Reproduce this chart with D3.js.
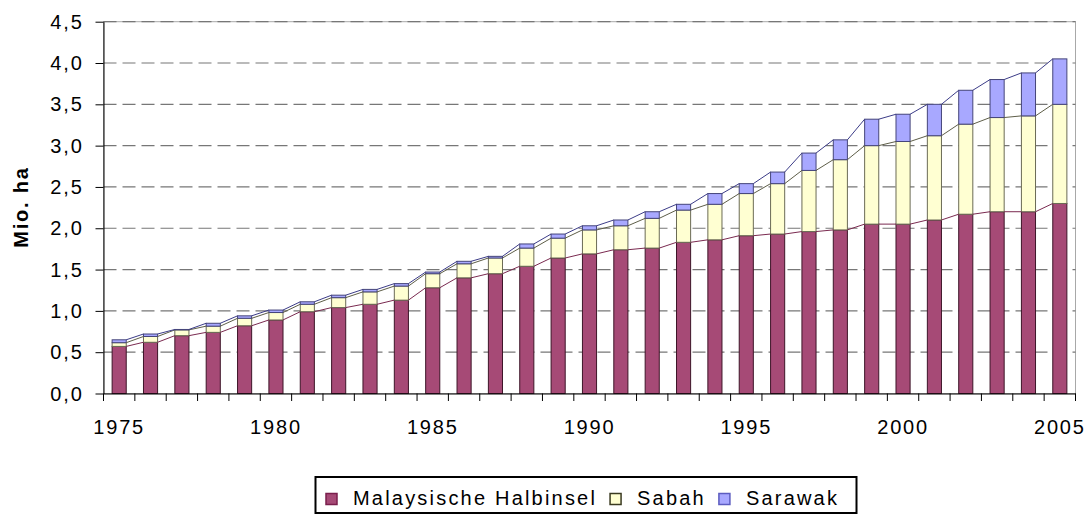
<!DOCTYPE html>
<html>
<head>
<meta charset="utf-8">
<script src="https://cdn.jsdelivr.net/npm/d3@7"></script>
<style>
  body { margin: 0; background: #fff; }
  svg { display: block; }
  text { font-family: "Liberation Sans", Arial, sans-serif; fill: #000; }
</style>
</head>
<body>
<svg id="chart" width="1091" height="515"></svg>
<script>
// Plantation area by region, million hectares
const years = [1975, 1976, 1977, 1978, 1979, 1980, 1981, 1982, 1983, 1984,
               1985, 1986, 1987, 1988, 1989, 1990, 1991, 1992, 1993, 1994,
               1995, 1996, 1997, 1998, 1999, 2000, 2001, 2002, 2003, 2004, 2005];
const halbinsel = [0.57, 0.62, 0.70, 0.74, 0.82, 0.89, 0.99, 1.04, 1.08, 1.13,
                   1.28, 1.40, 1.45, 1.54, 1.64, 1.69, 1.74, 1.76, 1.83, 1.86,
                   1.91, 1.93, 1.96, 1.98, 2.05, 2.05, 2.10, 2.17, 2.20, 2.20, 2.30];
const sabah = [0.045, 0.07, 0.07, 0.075, 0.09, 0.09, 0.09, 0.12, 0.15, 0.17,
               0.17, 0.17, 0.19, 0.22, 0.24, 0.29, 0.29, 0.36, 0.39, 0.43,
               0.51, 0.61, 0.74, 0.85, 0.95, 1.00, 1.02, 1.09, 1.14, 1.16, 1.20];
const sarawak = [0.035, 0.03, 0.005, 0.035, 0.03, 0.03, 0.03, 0.03, 0.03, 0.03,
                 0.02, 0.03, 0.02, 0.05, 0.05, 0.05, 0.07, 0.08, 0.07, 0.13,
                 0.12, 0.14, 0.21, 0.24, 0.32, 0.33, 0.38, 0.41, 0.46, 0.52, 0.55];
const seriesNames = ["Malaysische Halbinsel", "Sabah", "Sarawak"];
const yTicks = [0, 0.5, 1, 1.5, 2, 2.5, 3, 3.5, 4, 4.5];
const xLabelYears = [1975, 1980, 1985, 1990, 1995, 2000, 2005];

const fills = ["#A64A76", "#FFFFD2", "#A8A8FF"];
const strokes = ["#3d1528", "#6b6b55", "#45457a"];
const lineColors = ["#7a2a50", "#5e5e48", "#3c3c88"];
const swatchStrokes = ["#7a1f4c", "#3a3a20", "#5c5cc0"];

const svg = d3.select("#chart");
const plotLeft = 103.5, plotRight = 1075.5, plotTop = 21.7, plotBottom = 393.5;

const x = d3.scaleBand().domain(years).range([plotLeft, plotRight])
  .paddingInner(0.55).paddingOuter(0.275);
const y = d3.scaleLinear().domain([0, 4.5]).range([plotBottom, plotTop]);

const fmt = d3.formatLocale({decimal: ",", thousands: ".", grouping: [3], currency: ["", " €"]}).format(".1f");

// plot frame
svg.append("rect")
  .attr("x", plotLeft).attr("y", plotTop)
  .attr("width", plotRight - plotLeft).attr("height", plotBottom - plotTop)
  .attr("fill", "none").attr("stroke", "#a8a8a8").attr("stroke-width", 1);

// dashed gridlines
svg.append("g").selectAll("line")
  .data(yTicks.filter(v => v > 0))
  .join("line")
  .attr("x1", plotLeft).attr("x2", plotRight)
  .attr("y1", d => y(d)).attr("y2", d => y(d))
  .attr("stroke", "#777").attr("stroke-width", 1.2)
  .attr("stroke-dasharray", "13,6");

// stacked data
const rows = years.map((yr, i) => ({year: yr, h: halbinsel[i], s: sabah[i], w: sarawak[i]}));
const keys = ["h", "s", "w"];
const stacked = d3.stack().keys(keys)(rows);

const bw = x.bandwidth();

// bars
stacked.forEach((layer, li) => {
  svg.append("g").selectAll("rect")
    .data(layer)
    .join("rect")
    .attr("x", d => x(d.data.year))
    .attr("y", d => y(d[1]))
    .attr("width", bw)
    .attr("height", d => Math.max(0, y(d[0]) - y(d[1])))
    .attr("fill", fills[li])
    .attr("stroke", strokes[li])
    .attr("stroke-width", 1);
});

// series lines linking the tops of neighbouring stacks
stacked.forEach((layer, li) => {
  const pairs = d3.pairs(layer);
  svg.append("g").selectAll("line")
    .data(pairs)
    .join("line")
    .attr("x1", p => x(p[0].data.year) + bw)
    .attr("y1", p => y(p[0][1]))
    .attr("x2", p => x(p[1].data.year))
    .attr("y2", p => y(p[1][1]))
    .attr("stroke", lineColors[li])
    .attr("stroke-width", 1);
});

// y axis
const yAxis = svg.append("g")
  .attr("transform", `translate(${plotLeft},0)`)
  .call(d3.axisLeft(y).tickValues(yTicks).tickSize(8).tickSizeOuter(0).tickFormat(fmt));
yAxis.select(".domain").attr("stroke", "#000");
yAxis.selectAll(".tick line").attr("stroke", "#000");
yAxis.selectAll(".tick text")
  .attr("x", -19.5).attr("dy", "0.33em")
  .style("font-size", "20px").style("letter-spacing", "2px");
yAxis.attr("font-family", null).attr("font-size", null);

// x axis: labels every five years
const xAxis = svg.append("g")
  .attr("transform", `translate(0,${plotBottom})`)
  .call(d3.axisBottom(x).tickValues(xLabelYears).tickSize(0).tickSizeOuter(0));
xAxis.select(".domain").attr("stroke", "#000");
xAxis.selectAll(".tick text")
  .attr("y", 26).attr("dy", "0.71em")
  .style("font-size", "20px").style("letter-spacing", "1.8px");
xAxis.attr("font-family", null).attr("font-size", null);

// category boundary ticks
const gap = x.step() * x.paddingInner();
const bounds = years.map(yr => x(yr) - gap / 2).concat([x(years[years.length - 1]) + bw + gap / 2]);
svg.append("g").selectAll("line")
  .data(bounds)
  .join("line")
  .attr("x1", d => d).attr("x2", d => d)
  .attr("y1", plotBottom).attr("y2", plotBottom + 7.5)
  .attr("stroke", "#000").attr("stroke-width", 1);

// y axis title
svg.append("text")
  .attr("transform", "translate(28,207) rotate(-90)")
  .attr("text-anchor", "middle")
  .style("font-size", "20px").style("font-weight", "bold").style("letter-spacing", "1.8px")
  .text("Mio. ha");

// legend
const legend = svg.append("g");
legend.append("rect")
  .attr("x", 315.5).attr("y", 477).attr("width", 541).attr("height", 36)
  .attr("fill", "#fff").attr("stroke", "#000").attr("stroke-width", 2);

let cx = 326;
seriesNames.forEach((name, i) => {
  legend.append("rect")
    .attr("x", cx).attr("y", 493.5).attr("width", 11).attr("height", 11)
    .attr("fill", fills[i]).attr("stroke", swatchStrokes[i]).attr("stroke-width", 1.5);
  const t = legend.append("text")
    .attr("x", cx + 27).attr("y", 504.5)
    .style("font-size", "20px").style("letter-spacing", "2.2px")
    .text(name);
  cx = cx + 27 + t.node().getComputedTextLength() + 13;
});
</script>
</body>
</html>
